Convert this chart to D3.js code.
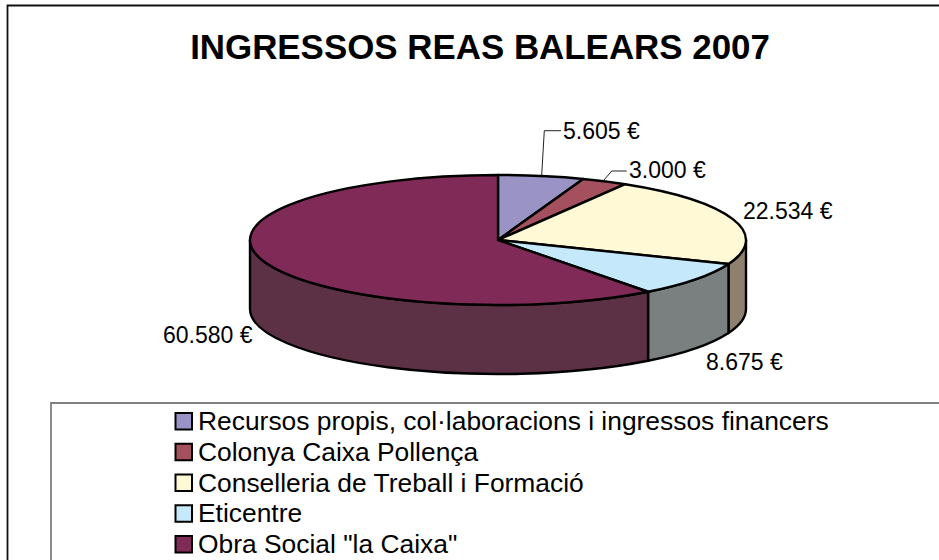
<!DOCTYPE html>
<html><head><meta charset="utf-8">
<script src="https://cdn.jsdelivr.net/npm/d3@7/dist/d3.min.js"></script>
<style>html,body{margin:0;padding:0;background:#fff}svg{display:block}text{font-family:"Liberation Sans",Arial,sans-serif;fill:#000}</style>
</head><body><svg id="c" width="939" height="560"></svg>
<script>
const chartTitle = "INGRESSOS REAS BALEARS 2007";
const categories = ["Recursos propis, col·laboracions i ingressos financers","Colonya Caixa Pollença","Conselleria de Treball i Formació","Eticentre","Obra Social \"la Caixa\""];
const values = [5605,3000,22534,8675,60580];
const valueLabels = ["5.605 €","3.000 €","22.534 €","8.675 €","60.580 €"];
const topColors = ["#9A94C6","#A5505F","#FFF9D6","#C5E8FA","#802A58"];
const sideColors = ["#4d4a63","#532830","#8F7F6E","#7A8080","#5C3045"];

const cx=498, cy=240, rx=248, ry=65, depth=69, outline=2.4;
const svg=d3.select("#c");
// frames
svg.append("path").attr("d","M7.5 560V5.5H939").attr("fill","none").attr("stroke","#111").attr("stroke-width",1.8);
svg.append("path").attr("d","M51 560V403H939").attr("fill","none").attr("stroke","#808080").attr("stroke-width",1.8);
svg.append("text").attr("x",480).attr("y",59).attr("text-anchor","middle").attr("font-size",34.9).attr("font-weight","bold").text(chartTitle);

const arcs=d3.pie().sort(null).startAngle(0).endAngle(2*Math.PI)(values);
const px=a=>cx+rx*Math.sin(a), py=a=>cy-ry*Math.cos(a);
// side walls
const HALF=Math.PI/2, TH=3*Math.PI/2;
const g=svg.append("g").attr("stroke","#000").attr("stroke-width",outline).attr("stroke-linejoin","round");
arcs.forEach((d,i)=>{
  const a0=Math.max(d.startAngle,HALF), a1=Math.min(d.endAngle,TH);
  if(a1<=a0) return;
  const p=`M${px(a0)} ${py(a0)}A${rx} ${ry} 0 0 1 ${px(a1)} ${py(a1)}`+
    `L${px(a1)} ${py(a1)+depth}A${rx} ${ry} 0 0 0 ${px(a0)} ${py(a0)+depth}Z`;
  g.append("path").attr("d",p).attr("fill",sideColors[i]);
});
// top faces
const arcGen=d3.arc().innerRadius(0).outerRadius(rx);
const topFace=g.append("g").attr("transform",`translate(${cx},${cy}) scale(1,${ry/rx})`);
topFace.selectAll("path").data(arcs).join("path").attr("d",arcGen)
  .attr("fill",(d,i)=>topColors[i]).attr("vector-effect","non-scaling-stroke");
// leaders
const leaders=[[[541.7,175],[544.3,130.7],[561,130.7]],[[604,180],[611.7,171],[626.7,171]]];
leaders.forEach(l=>svg.append("path").attr("d",d3.line()(l)).attr("fill","none").attr("stroke","#222").attr("stroke-width",1));
// labels
const labelPos=[[563,138.5],[629,178],[743,218.5],[706,369.5],[163,343]];
svg.selectAll("text.v").data(valueLabels).join("text").attr("class","v")
  .attr("x",(d,i)=>labelPos[i][0]).attr("y",(d,i)=>labelPos[i][1]).attr("font-size",23).text(d=>d);
// legend
const rows=d3.scalePoint().domain(categories).range([421.5,544.5]);
const lg=svg.selectAll("g.l").data(categories).join("g").attr("class","l").attr("transform",d=>`translate(0,${rows(d)})`);
lg.append("rect").attr("x",175.5).attr("y",-8.5).attr("width",16.5).attr("height",16.5)
  .attr("fill",(d,i)=>topColors[i]).attr("stroke","#000").attr("stroke-width",2);
lg.append("text").attr("x",198).attr("y",8.5).attr("font-size",26.4).text(d=>d);
</script></body></html>
